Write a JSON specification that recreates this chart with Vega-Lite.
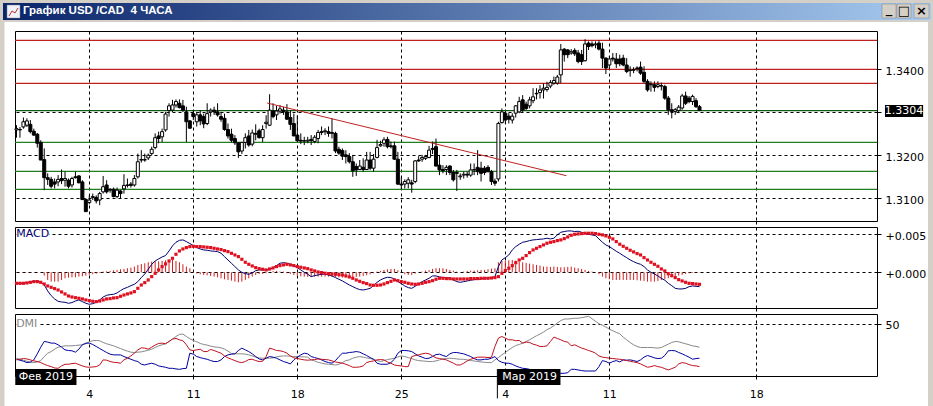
{"$schema":"https://vega.github.io/schema/vega-lite/v6.json","background":"white","padding":0,"spacing":6,"bounds":"flush",
"config":{"font":"DejaVu Sans","scale":{"continuousPadding":0},"view":{"stroke":"black","strokeWidth":1,"fill":"white"},"axis":{"domain":false,"title":null,"grid":true,"gridColor":"black","gridDash":[3,3],"gridWidth":1,"gridOpacity":1,"tickColor":"black","tickSize":4,"labelColor":"black","labelFont":"DejaVu Sans","labelFontSize":11,"labelPadding":4,"labelOverlap":false,"labelFlush":false,"zindex":0}},
"datasets":{"bars":[
{"i":0,"o":1.3259,"h":1.327,"l":1.3241,"c":1.3262,"macd":-0.00145,"sig":-0.00145,"hist":-0.00004,"adx":17.1,"pdi":16.1,"mdi":15.5},
{"i":1,"o":1.326,"h":1.3266,"l":1.3241,"c":1.3259,"macd":-0.00145,"sig":-0.00145,"hist":-0.00004,"adx":16.1,"pdi":15.2,"mdi":16.1},
{"i":2,"o":1.3266,"h":1.3288,"l":1.3262,"c":1.3278,"macd":-0.0014,"sig":-0.00145,"hist":-0.00004,"adx":15.2,"pdi":14.2,"mdi":16.8},
{"i":3,"o":1.327,"h":1.3286,"l":1.3266,"c":1.328,"macd":-0.00136,"sig":-0.0014,"hist":-0.00004,"adx":14.2,"pdi":12.9,"mdi":16.4},
{"i":4,"o":1.3272,"h":1.3282,"l":1.3251,"c":1.3255,"macd":-0.00127,"sig":-0.00132,"hist":-0.00004,"adx":12.9,"pdi":13.5,"mdi":15.5},
{"i":5,"o":1.3256,"h":1.3262,"l":1.3245,"c":1.3247,"macd":-0.00119,"sig":-0.00123,"hist":-0.00004,"adx":12.9,"pdi":15.5,"mdi":14.5},
{"i":6,"o":1.3249,"h":1.3252,"l":1.3218,"c":1.3228,"macd":-0.00114,"sig":-0.00123,"hist":-0.00004,"adx":13.5,"pdi":21.3,"mdi":13.9},
{"i":7,"o":1.323,"h":1.3235,"l":1.3189,"c":1.3189,"macd":-0.00132,"sig":-0.00132,"hist":-0.00004,"adx":14.8,"pdi":27.7,"mdi":12.9},
{"i":8,"o":1.319,"h":1.3216,"l":1.3119,"c":1.3148,"macd":-0.00167,"sig":-0.00154,"hist":-0.00044,"adx":18.7,"pdi":33.2,"mdi":11.3},
{"i":9,"o":1.3148,"h":1.3158,"l":1.3131,"c":1.3144,"macd":-0.00246,"sig":-0.0018,"hist":-0.00101,"adx":21.9,"pdi":32.6,"mdi":10},
{"i":10,"o":1.3144,"h":1.315,"l":1.3123,"c":1.3128,"macd":-0.00307,"sig":-0.00198,"hist":-0.00123,"adx":23.5,"pdi":31.6,"mdi":9},
{"i":11,"o":1.3138,"h":1.3146,"l":1.3123,"c":1.3133,"macd":-0.00351,"sig":-0.00215,"hist":-0.00123,"adx":25.8,"pdi":31.6,"mdi":7.7},
{"i":12,"o":1.3138,"h":1.3154,"l":1.3128,"c":1.3144,"macd":-0.00382,"sig":-0.00233,"hist":-0.00123,"adx":27.7,"pdi":30,"mdi":7.4},
{"i":13,"o":1.3146,"h":1.3167,"l":1.3133,"c":1.3141,"macd":-0.00391,"sig":-0.00259,"hist":-0.00101,"adx":28.4,"pdi":27.7,"mdi":9.7},
{"i":14,"o":1.3142,"h":1.3162,"l":1.3127,"c":1.3146,"macd":-0.00395,"sig":-0.00285,"hist":-0.00079,"adx":29,"pdi":25.1,"mdi":11.3},
{"i":15,"o":1.3142,"h":1.3146,"l":1.3123,"c":1.3128,"macd":-0.00408,"sig":-0.00312,"hist":-0.0007,"adx":29,"pdi":24.5,"mdi":11.3},
{"i":16,"o":1.3131,"h":1.315,"l":1.3125,"c":1.3146,"macd":-0.00399,"sig":-0.00325,"hist":-0.00066,"adx":29,"pdi":24.2,"mdi":11.9},
{"i":17,"o":1.315,"h":1.3162,"l":1.3146,"c":1.3148,"macd":-0.00378,"sig":-0.00334,"hist":-0.00066,"adx":29.3,"pdi":22.9,"mdi":12.3},
{"i":18,"o":1.3152,"h":1.3154,"l":1.3135,"c":1.3136,"macd":-0.00364,"sig":-0.00342,"hist":-0.00057,"adx":29.7,"pdi":25.8,"mdi":11},
{"i":19,"o":1.3138,"h":1.3142,"l":1.3096,"c":1.3097,"macd":-0.00386,"sig":-0.00351,"hist":-0.00053,"adx":30,"pdi":30,"mdi":9.7},
{"i":20,"o":1.3097,"h":1.31,"l":1.3069,"c":1.3069,"macd":-0.00408,"sig":-0.00364,"hist":-0.00044,"adx":31,"pdi":31.6,"mdi":8.7},
{"i":21,"o":1.309,"h":1.3107,"l":1.3086,"c":1.3096,"macd":-0.00421,"sig":-0.00373,"hist":-0.00035,"adx":32.9,"pdi":31.6,"mdi":8.4},
{"i":22,"o":1.3102,"h":1.3111,"l":1.3096,"c":1.3104,"macd":-0.00413,"sig":-0.00382,"hist":-0.00026,"adx":33.9,"pdi":30.3,"mdi":8.7},
{"i":23,"o":1.3102,"h":1.3107,"l":1.3088,"c":1.3094,"macd":-0.00395,"sig":-0.00386,"hist":-0.00018,"adx":34.2,"pdi":28.4,"mdi":9},
{"i":24,"o":1.3096,"h":1.3115,"l":1.3084,"c":1.3111,"macd":-0.00364,"sig":-0.00378,"hist":-0.00009,"adx":33.9,"pdi":26.4,"mdi":10.6},
{"i":25,"o":1.3115,"h":1.3152,"l":1.3111,"c":1.3127,"macd":-0.00325,"sig":-0.00364,"hist":0.00009,"adx":32.2,"pdi":24.5,"mdi":15.5},
{"i":26,"o":1.3131,"h":1.3142,"l":1.3111,"c":1.3115,"macd":-0.00303,"sig":-0.00351,"hist":0.00013,"adx":31,"pdi":22.6,"mdi":15.2},
{"i":27,"o":1.3121,"h":1.3123,"l":1.3113,"c":1.3119,"macd":-0.00294,"sig":-0.00347,"hist":0.00018,"adx":30,"pdi":21,"mdi":13.9},
{"i":28,"o":1.3121,"h":1.3125,"l":1.3102,"c":1.3104,"macd":-0.0029,"sig":-0.00338,"hist":0.00026,"adx":29,"pdi":20.3,"mdi":13.2},
{"i":29,"o":1.3104,"h":1.3125,"l":1.31,"c":1.3119,"macd":-0.00272,"sig":-0.00334,"hist":0.00031,"adx":27.7,"pdi":20.3,"mdi":12.9},
{"i":30,"o":1.3117,"h":1.3119,"l":1.31,"c":1.3111,"macd":-0.00241,"sig":-0.00316,"hist":0.0004,"adx":26.4,"pdi":20.3,"mdi":12.3},
{"i":31,"o":1.3122,"h":1.3156,"l":1.3111,"c":1.313,"macd":-0.00215,"sig":-0.00299,"hist":0.00044,"adx":25.1,"pdi":18.7,"mdi":15.5},
{"i":32,"o":1.3131,"h":1.3146,"l":1.3125,"c":1.313,"macd":-0.00198,"sig":-0.00285,"hist":0.00053,"adx":23.9,"pdi":17.4,"mdi":17.1},
{"i":33,"o":1.3133,"h":1.3138,"l":1.3125,"c":1.313,"macd":-0.00176,"sig":-0.00272,"hist":0.00061,"adx":22.9,"pdi":16.1,"mdi":19.3},
{"i":34,"o":1.3131,"h":1.3154,"l":1.3127,"c":1.3146,"macd":-0.00158,"sig":-0.00255,"hist":0.00075,"adx":22.6,"pdi":14.8,"mdi":21.9},
{"i":35,"o":1.315,"h":1.3204,"l":1.3146,"c":1.3185,"macd":-0.00123,"sig":-0.00211,"hist":0.00097,"adx":22.9,"pdi":13.9,"mdi":25.1},
{"i":36,"o":1.319,"h":1.3212,"l":1.3183,"c":1.3189,"macd":-0.0007,"sig":-0.00167,"hist":0.0011,"adx":23.2,"pdi":11.3,"mdi":27.1},
{"i":37,"o":1.3189,"h":1.3204,"l":1.3185,"c":1.319,"macd":-0.00022,"sig":-0.00136,"hist":0.00119,"adx":23.9,"pdi":10.6,"mdi":26.8},
{"i":38,"o":1.3194,"h":1.3204,"l":1.3189,"c":1.32,"macd":0.0004,"sig":-0.00101,"hist":0.00132,"adx":24.8,"pdi":11.6,"mdi":25.8},
{"i":39,"o":1.3204,"h":1.322,"l":1.32,"c":1.3214,"macd":0.00105,"sig":-0.00057,"hist":0.0014,"adx":25.8,"pdi":12.3,"mdi":27.7},
{"i":40,"o":1.3218,"h":1.3251,"l":1.3214,"c":1.3241,"macd":0.00149,"sig":-0.00013,"hist":0.00145,"adx":27.4,"pdi":11.3,"mdi":29.7},
{"i":41,"o":1.3245,"h":1.3255,"l":1.3228,"c":1.3239,"macd":0.00176,"sig":0.00031,"hist":0.00145,"adx":29,"pdi":9.7,"mdi":31.3},
{"i":42,"o":1.3243,"h":1.3262,"l":1.3231,"c":1.3255,"macd":0.00202,"sig":0.00075,"hist":0.00149,"adx":30,"pdi":9,"mdi":31.6},
{"i":43,"o":1.3259,"h":1.3301,"l":1.3255,"c":1.3296,"macd":0.0022,"sig":0.0011,"hist":0.00158,"adx":31,"pdi":8.4,"mdi":31},
{"i":44,"o":1.3304,"h":1.3321,"l":1.329,"c":1.3315,"macd":0.00281,"sig":0.00149,"hist":0.00162,"adx":33.2,"pdi":7.4,"mdi":33.2},
{"i":45,"o":1.3305,"h":1.3329,"l":1.3301,"c":1.3317,"macd":0.00347,"sig":0.00184,"hist":0.00162,"adx":35.5,"pdi":7.4,"mdi":35.5},
{"i":46,"o":1.3317,"h":1.333,"l":1.3311,"c":1.3325,"macd":0.00395,"sig":0.00237,"hist":0.00149,"adx":38,"pdi":6.8,"mdi":36.1},
{"i":47,"o":1.3321,"h":1.333,"l":1.3309,"c":1.3311,"macd":0.00421,"sig":0.00281,"hist":0.00132,"adx":40,"pdi":6.4,"mdi":34.8},
{"i":48,"o":1.3315,"h":1.3329,"l":1.3301,"c":1.3305,"macd":0.00426,"sig":0.00307,"hist":0.00105,"adx":40.3,"pdi":7.1,"mdi":33.9},
{"i":49,"o":1.3301,"h":1.3313,"l":1.3231,"c":1.3278,"macd":0.00404,"sig":0.00325,"hist":0.00075,"adx":38,"pdi":7.4,"mdi":30},
{"i":50,"o":1.328,"h":1.3282,"l":1.3262,"c":1.3263,"macd":0.00378,"sig":0.00338,"hist":0.00053,"adx":35.8,"pdi":21.9,"mdi":25.1},
{"i":51,"o":1.3297,"h":1.3305,"l":1.3282,"c":1.329,"macd":0.00351,"sig":0.00342,"hist":0.00009,"adx":34.2,"pdi":21,"mdi":24.5},
{"i":52,"o":1.3278,"h":1.3301,"l":1.3267,"c":1.3294,"macd":0.00325,"sig":0.00338,"hist":-0.00018,"adx":32.9,"pdi":18.7,"mdi":25.1},
{"i":53,"o":1.3294,"h":1.3305,"l":1.327,"c":1.328,"macd":0.00307,"sig":0.00338,"hist":-0.00026,"adx":31.3,"pdi":17.7,"mdi":25.8},
{"i":54,"o":1.329,"h":1.3297,"l":1.3263,"c":1.3273,"macd":0.00294,"sig":0.00334,"hist":-0.00035,"adx":30.3,"pdi":16.8,"mdi":23.5},
{"i":55,"o":1.3274,"h":1.3321,"l":1.327,"c":1.3297,"macd":0.0029,"sig":0.00329,"hist":-0.0004,"adx":29.7,"pdi":16.1,"mdi":23.5},
{"i":56,"o":1.3301,"h":1.3309,"l":1.329,"c":1.3305,"macd":0.00281,"sig":0.00325,"hist":-0.00048,"adx":28.7,"pdi":14.8,"mdi":25.5},
{"i":57,"o":1.3305,"h":1.3313,"l":1.3294,"c":1.3301,"macd":0.00277,"sig":0.00316,"hist":-0.00057,"adx":28,"pdi":13.9,"mdi":24.5},
{"i":58,"o":1.3301,"h":1.3321,"l":1.329,"c":1.3294,"macd":0.00272,"sig":0.00307,"hist":-0.00066,"adx":27.7,"pdi":13.9,"mdi":23.2},
{"i":59,"o":1.329,"h":1.3301,"l":1.3278,"c":1.3284,"macd":0.0025,"sig":0.00299,"hist":-0.00079,"adx":27.1,"pdi":15.5,"mdi":21.9},
{"i":60,"o":1.3286,"h":1.3297,"l":1.3257,"c":1.326,"macd":0.00206,"sig":0.00285,"hist":-0.00092,"adx":25.8,"pdi":18.7,"mdi":19.3},
{"i":61,"o":1.326,"h":1.3274,"l":1.3239,"c":1.3245,"macd":0.00162,"sig":0.00272,"hist":-0.00101,"adx":23.9,"pdi":20.3,"mdi":17.4},
{"i":62,"o":1.3249,"h":1.3262,"l":1.323,"c":1.3235,"macd":0.00119,"sig":0.0025,"hist":-0.0011,"adx":21.6,"pdi":21,"mdi":16.1},
{"i":63,"o":1.3239,"h":1.3247,"l":1.3224,"c":1.3229,"macd":0.00075,"sig":0.00228,"hist":-0.00123,"adx":21.3,"pdi":21.3,"mdi":14.8},
{"i":64,"o":1.3229,"h":1.3231,"l":1.3194,"c":1.3208,"macd":0.00031,"sig":0.00206,"hist":-0.00132,"adx":21.3,"pdi":24.5,"mdi":13.5},
{"i":65,"o":1.321,"h":1.323,"l":1.3203,"c":1.323,"macd":0,"sig":0.00171,"hist":-0.00123,"adx":21.3,"pdi":26.8,"mdi":12.9},
{"i":66,"o":1.323,"h":1.3251,"l":1.3216,"c":1.3241,"macd":-0.00018,"sig":0.00132,"hist":-0.00101,"adx":21,"pdi":25.1,"mdi":13.9},
{"i":67,"o":1.3245,"h":1.3259,"l":1.322,"c":1.3224,"macd":-0.00026,"sig":0.00105,"hist":-0.00079,"adx":20.3,"pdi":23.5,"mdi":15.8},
{"i":68,"o":1.3226,"h":1.326,"l":1.3221,"c":1.3252,"macd":-0.00009,"sig":0.00083,"hist":-0.00057,"adx":19.3,"pdi":21.3,"mdi":16.1},
{"i":69,"o":1.3251,"h":1.3272,"l":1.3235,"c":1.3249,"macd":0.00022,"sig":0.00061,"hist":-0.00035,"adx":18.1,"pdi":18.7,"mdi":14.8},
{"i":70,"o":1.3257,"h":1.3262,"l":1.3239,"c":1.3241,"macd":0.00031,"sig":0.00048,"hist":-0.00022,"adx":17.4,"pdi":16.4,"mdi":13.9},
{"i":71,"o":1.3241,"h":1.327,"l":1.3231,"c":1.326,"macd":0.00031,"sig":0.0004,"hist":-0.00022,"adx":17.1,"pdi":15.5,"mdi":14.2},
{"i":72,"o":1.3274,"h":1.3293,"l":1.3262,"c":1.3277,"macd":0.00031,"sig":0.00031,"hist":-0.00013,"adx":17.1,"pdi":17.1,"mdi":18.7},
{"i":73,"o":1.327,"h":1.3342,"l":1.3268,"c":1.3305,"macd":0.00035,"sig":0.00044,"hist":0,"adx":17.1,"pdi":18.7,"mdi":26.8},
{"i":74,"o":1.3303,"h":1.3321,"l":1.3286,"c":1.329,"macd":0.00061,"sig":0.00057,"hist":0.00018,"adx":17.4,"pdi":18.1,"mdi":25.8},
{"i":75,"o":1.3294,"h":1.3315,"l":1.3282,"c":1.3303,"macd":0.00088,"sig":0.00075,"hist":0.00018,"adx":18.4,"pdi":17.1,"mdi":24.5},
{"i":76,"o":1.3303,"h":1.3317,"l":1.3297,"c":1.3308,"macd":0.00119,"sig":0.00088,"hist":0.00009,"adx":19,"pdi":15.5,"mdi":24.2},
{"i":77,"o":1.3305,"h":1.3313,"l":1.3294,"c":1.3301,"macd":0.00127,"sig":0.00097,"hist":0.00009,"adx":19.3,"pdi":13.9,"mdi":23.5},
{"i":78,"o":1.3301,"h":1.3319,"l":1.3282,"c":1.3284,"macd":0.00119,"sig":0.00105,"hist":-0.00013,"adx":19.3,"pdi":12.9,"mdi":21.9},
{"i":79,"o":1.3288,"h":1.3305,"l":1.3259,"c":1.3272,"macd":0.00105,"sig":0.00097,"hist":-0.00022,"adx":19,"pdi":11.6,"mdi":19.3},
{"i":80,"o":1.3274,"h":1.3297,"l":1.3245,"c":1.3245,"macd":0.00088,"sig":0.00088,"hist":-0.00035,"adx":18.7,"pdi":15.5,"mdi":17.4},
{"i":81,"o":1.3247,"h":1.3293,"l":1.3231,"c":1.3234,"macd":0.00061,"sig":0.00075,"hist":-0.00044,"adx":18.7,"pdi":18.1,"mdi":16.8},
{"i":82,"o":1.3235,"h":1.3251,"l":1.3226,"c":1.3233,"macd":0.00031,"sig":0.00066,"hist":-0.00053,"adx":18.4,"pdi":20.3,"mdi":16.1},
{"i":83,"o":1.3233,"h":1.3243,"l":1.3224,"c":1.3234,"macd":0,"sig":0.00057,"hist":-0.00057,"adx":18.4,"pdi":21.9,"mdi":15.5},
{"i":84,"o":1.3233,"h":1.3243,"l":1.3228,"c":1.3235,"macd":-0.00026,"sig":0.00048,"hist":-0.00061,"adx":18.1,"pdi":21.3,"mdi":15.2},
{"i":85,"o":1.3237,"h":1.3247,"l":1.3224,"c":1.3234,"macd":-0.00057,"sig":0.00031,"hist":-0.00061,"adx":15.5,"pdi":18.7,"mdi":15.5},
{"i":86,"o":1.3232,"h":1.3247,"l":1.3228,"c":1.3242,"macd":-0.00044,"sig":0.00018,"hist":-0.00057,"adx":14.5,"pdi":17.7,"mdi":15.8},
{"i":87,"o":1.3239,"h":1.3259,"l":1.3228,"c":1.3253,"macd":-0.00035,"sig":0.00004,"hist":-0.00057,"adx":13.2,"pdi":16.8,"mdi":16.4},
{"i":88,"o":1.3255,"h":1.3267,"l":1.3247,"c":1.3253,"macd":-0.00026,"sig":-0.00004,"hist":-0.00057,"adx":12.3,"pdi":15.5,"mdi":16.1},
{"i":89,"o":1.3255,"h":1.3263,"l":1.3247,"c":1.3257,"macd":-0.00026,"sig":-0.00013,"hist":-0.00057,"adx":11.6,"pdi":13.9,"mdi":15.8},
{"i":90,"o":1.3255,"h":1.3267,"l":1.3243,"c":1.3251,"macd":-0.00035,"sig":-0.00018,"hist":-0.00057,"adx":11.3,"pdi":12.9,"mdi":15.5},
{"i":91,"o":1.3253,"h":1.3286,"l":1.3239,"c":1.3251,"macd":-0.00048,"sig":-0.00022,"hist":-0.00057,"adx":11,"pdi":12.3,"mdi":14.5},
{"i":92,"o":1.3251,"h":1.3255,"l":1.3205,"c":1.321,"macd":-0.0007,"sig":-0.00026,"hist":-0.00061,"adx":10.6,"pdi":14.8,"mdi":13.5},
{"i":93,"o":1.3214,"h":1.322,"l":1.3201,"c":1.3205,"macd":-0.00092,"sig":-0.00031,"hist":-0.00066,"adx":11.3,"pdi":18.7,"mdi":12.9},
{"i":94,"o":1.3211,"h":1.3216,"l":1.3189,"c":1.3198,"macd":-0.00114,"sig":-0.00035,"hist":-0.0007,"adx":12.9,"pdi":21.9,"mdi":12.3},
{"i":95,"o":1.3201,"h":1.3212,"l":1.3181,"c":1.3197,"macd":-0.0014,"sig":-0.00048,"hist":-0.0007,"adx":14.8,"pdi":21.9,"mdi":11.3},
{"i":96,"o":1.3197,"h":1.3205,"l":1.3181,"c":1.3185,"macd":-0.00167,"sig":-0.00061,"hist":-0.0007,"adx":15.5,"pdi":22.6,"mdi":10},
{"i":97,"o":1.3185,"h":1.3201,"l":1.315,"c":1.3164,"macd":-0.00189,"sig":-0.00079,"hist":-0.00066,"adx":17.1,"pdi":22.9,"mdi":8.4},
{"i":98,"o":1.3174,"h":1.3181,"l":1.3152,"c":1.3166,"macd":-0.00211,"sig":-0.00101,"hist":-0.00061,"adx":18.1,"pdi":23.5,"mdi":8.4},
{"i":99,"o":1.3167,"h":1.3189,"l":1.3166,"c":1.3175,"macd":-0.00228,"sig":-0.00119,"hist":-0.00057,"adx":18.7,"pdi":22.9,"mdi":8.7},
{"i":100,"o":1.3172,"h":1.3193,"l":1.3162,"c":1.3167,"macd":-0.00233,"sig":-0.00136,"hist":-0.00048,"adx":18.1,"pdi":21.3,"mdi":9.7},
{"i":101,"o":1.3167,"h":1.3208,"l":1.3166,"c":1.3189,"macd":-0.00224,"sig":-0.00149,"hist":-0.0004,"adx":17.4,"pdi":19.7,"mdi":12.9},
{"i":102,"o":1.3189,"h":1.3208,"l":1.3166,"c":1.317,"macd":-0.00211,"sig":-0.00167,"hist":-0.00026,"adx":16.8,"pdi":17.7,"mdi":13.9},
{"i":103,"o":1.317,"h":1.3203,"l":1.3162,"c":1.3191,"macd":-0.00176,"sig":-0.00171,"hist":-0.00013,"adx":16.1,"pdi":16.1,"mdi":14.5},
{"i":104,"o":1.3195,"h":1.3236,"l":1.3193,"c":1.3218,"macd":-0.00132,"sig":-0.00171,"hist":0.00009,"adx":14.8,"pdi":12.3,"mdi":15.5},
{"i":105,"o":1.3222,"h":1.3234,"l":1.322,"c":1.3225,"macd":-0.00101,"sig":-0.00167,"hist":0.00018,"adx":13.9,"pdi":11.3,"mdi":15.8},
{"i":106,"o":1.3228,"h":1.3242,"l":1.322,"c":1.3236,"macd":-0.00079,"sig":-0.00154,"hist":0.00031,"adx":14.8,"pdi":11.3,"mdi":15.5},
{"i":107,"o":1.3237,"h":1.3243,"l":1.3216,"c":1.322,"macd":-0.00066,"sig":-0.00136,"hist":0.0004,"adx":15.8,"pdi":11.3,"mdi":13.5},
{"i":108,"o":1.3222,"h":1.3232,"l":1.3216,"c":1.322,"macd":-0.0007,"sig":-0.00119,"hist":0.00044,"adx":16.4,"pdi":12.9,"mdi":12.3},
{"i":109,"o":1.3222,"h":1.3232,"l":1.3189,"c":1.3191,"macd":-0.00088,"sig":-0.00101,"hist":0.00044,"adx":17.1,"pdi":16.1,"mdi":10.6},
{"i":110,"o":1.3191,"h":1.3208,"l":1.3131,"c":1.3133,"macd":-0.00123,"sig":-0.0011,"hist":0.00026,"adx":18.4,"pdi":21.9,"mdi":10},
{"i":111,"o":1.3133,"h":1.315,"l":1.3121,"c":1.3131,"macd":-0.00149,"sig":-0.00123,"hist":-0.00004,"adx":19.3,"pdi":24.5,"mdi":9.7},
{"i":112,"o":1.3133,"h":1.3144,"l":1.3123,"c":1.3139,"macd":-0.0018,"sig":-0.00132,"hist":-0.00026,"adx":18.7,"pdi":24.5,"mdi":9},
{"i":113,"o":1.3135,"h":1.3149,"l":1.3123,"c":1.3143,"macd":-0.00202,"sig":-0.00145,"hist":-0.00035,"adx":17.7,"pdi":24.2,"mdi":9},
{"i":114,"o":1.3136,"h":1.3143,"l":1.3113,"c":1.3133,"macd":-0.00211,"sig":-0.00154,"hist":-0.00035,"adx":16.8,"pdi":23.5,"mdi":18.7},
{"i":115,"o":1.3139,"h":1.3189,"l":1.3135,"c":1.3187,"macd":-0.00184,"sig":-0.00158,"hist":-0.00018,"adx":15.5,"pdi":21.3,"mdi":19.7},
{"i":116,"o":1.3189,"h":1.3198,"l":1.3185,"c":1.3187,"macd":-0.00154,"sig":-0.00154,"hist":0,"adx":14.8,"pdi":19.3,"mdi":20.3},
{"i":117,"o":1.3191,"h":1.3201,"l":1.3185,"c":1.3195,"macd":-0.00123,"sig":-0.00145,"hist":0.00009,"adx":14.5,"pdi":18.1,"mdi":21.3},
{"i":118,"o":1.3193,"h":1.3201,"l":1.3189,"c":1.3197,"macd":-0.00101,"sig":-0.00132,"hist":0.00022,"adx":14.2,"pdi":16.8,"mdi":21.9},
{"i":119,"o":1.3195,"h":1.3222,"l":1.3193,"c":1.3212,"macd":-0.00079,"sig":-0.00123,"hist":0.00031,"adx":13.9,"pdi":17.1,"mdi":21.3},
{"i":120,"o":1.3216,"h":1.3232,"l":1.3203,"c":1.3214,"macd":-0.00048,"sig":-0.0011,"hist":0.00044,"adx":13.9,"pdi":18.7,"mdi":19.3},
{"i":121,"o":1.322,"h":1.3239,"l":1.3174,"c":1.3175,"macd":-0.00048,"sig":-0.00092,"hist":0.00053,"adx":14.5,"pdi":20.6,"mdi":17.4},
{"i":122,"o":1.3177,"h":1.3201,"l":1.3154,"c":1.3166,"macd":-0.00061,"sig":-0.00079,"hist":0.00053,"adx":15.5,"pdi":21,"mdi":16.8},
{"i":123,"o":1.3167,"h":1.3177,"l":1.3158,"c":1.3164,"macd":-0.0007,"sig":-0.00079,"hist":0.00053,"adx":16.4,"pdi":19.7,"mdi":16.1},
{"i":124,"o":1.3167,"h":1.3177,"l":1.3154,"c":1.3172,"macd":-0.0007,"sig":-0.00083,"hist":0.00044,"adx":16.8,"pdi":18.7,"mdi":15.5},
{"i":125,"o":1.3175,"h":1.3177,"l":1.3154,"c":1.316,"macd":-0.00079,"sig":-0.00083,"hist":0.00031,"adx":17.1,"pdi":21.3,"mdi":13.9},
{"i":126,"o":1.316,"h":1.3166,"l":1.3139,"c":1.3143,"macd":-0.00101,"sig":-0.00088,"hist":0.00022,"adx":16.8,"pdi":22.6,"mdi":12.3},
{"i":127,"o":1.316,"h":1.3166,"l":1.3117,"c":1.3158,"macd":-0.00123,"sig":-0.00088,"hist":0.00009,"adx":16.4,"pdi":22.6,"mdi":10.6},
{"i":128,"o":1.315,"h":1.3158,"l":1.3143,"c":1.3152,"macd":-0.00132,"sig":-0.00088,"hist":0.00004,"adx":16.1,"pdi":21.9,"mdi":10.6},
{"i":129,"o":1.3154,"h":1.3162,"l":1.3146,"c":1.3156,"macd":-0.00123,"sig":-0.00088,"hist":0.00009,"adx":16.1,"pdi":21.3,"mdi":12.3},
{"i":130,"o":1.3156,"h":1.3162,"l":1.3148,"c":1.3154,"macd":-0.00114,"sig":-0.00088,"hist":0.00018,"adx":15.5,"pdi":20,"mdi":14.5},
{"i":131,"o":1.3154,"h":1.3181,"l":1.315,"c":1.3166,"macd":-0.00105,"sig":-0.00083,"hist":0.00022,"adx":14.8,"pdi":18.7,"mdi":16.1},
{"i":132,"o":1.3166,"h":1.3181,"l":1.3154,"c":1.3167,"macd":-0.00097,"sig":-0.00083,"hist":0.00022,"adx":14.5,"pdi":16.8,"mdi":17.1},
{"i":133,"o":1.3172,"h":1.3212,"l":1.3154,"c":1.3162,"macd":-0.00092,"sig":-0.00083,"hist":0.00026,"adx":13.9,"pdi":15.5,"mdi":18.1},
{"i":134,"o":1.317,"h":1.3185,"l":1.3139,"c":1.3158,"macd":-0.00088,"sig":-0.00079,"hist":0.00031,"adx":13.5,"pdi":15.5,"mdi":18.1},
{"i":135,"o":1.317,"h":1.3175,"l":1.3154,"c":1.316,"macd":-0.00079,"sig":-0.00079,"hist":0.00031,"adx":13.2,"pdi":16.1,"mdi":18.1},
{"i":136,"o":1.3172,"h":1.3177,"l":1.316,"c":1.3162,"macd":-0.00075,"sig":-0.00079,"hist":0.0004,"adx":12.9,"pdi":16.1,"mdi":17.7},
{"i":137,"o":1.3162,"h":1.3166,"l":1.3131,"c":1.3139,"macd":-0.0007,"sig":-0.00075,"hist":0.00048,"adx":12.9,"pdi":17.1,"mdi":18.1},
{"i":138,"o":1.314,"h":1.3146,"l":1.3129,"c":1.3135,"macd":-0.00057,"sig":-0.0007,"hist":0.00053,"adx":15.5,"pdi":18.7,"mdi":28.4},
{"i":139,"o":1.3145,"h":1.3278,"l":1.3139,"c":1.3274,"macd":0.00075,"sig":-0.00057,"hist":0.00132,"adx":17.7,"pdi":14.8,"mdi":36.4},
{"i":140,"o":1.3276,"h":1.3309,"l":1.3274,"c":1.3301,"macd":0.00162,"sig":-0.00013,"hist":0.00149,"adx":20.3,"pdi":13.2,"mdi":38},
{"i":141,"o":1.3298,"h":1.3301,"l":1.3274,"c":1.3282,"macd":0.00193,"sig":0.00022,"hist":0.00149,"adx":22.6,"pdi":12.3,"mdi":36.4},
{"i":142,"o":1.3291,"h":1.3298,"l":1.3274,"c":1.3284,"macd":0.00228,"sig":0.00053,"hist":0.00158,"adx":25.1,"pdi":12.3,"mdi":34.8},
{"i":143,"o":1.3282,"h":1.3298,"l":1.3274,"c":1.3291,"macd":0.00294,"sig":0.00088,"hist":0.00162,"adx":27.4,"pdi":11.3,"mdi":34.8},
{"i":144,"o":1.3298,"h":1.3317,"l":1.3288,"c":1.3315,"macd":0.00338,"sig":0.00127,"hist":0.00154,"adx":29.3,"pdi":9.7,"mdi":33.9},
{"i":145,"o":1.3301,"h":1.3336,"l":1.3298,"c":1.3325,"macd":0.00369,"sig":0.00162,"hist":0.0014,"adx":30.3,"pdi":8.4,"mdi":34.2},
{"i":146,"o":1.3329,"h":1.334,"l":1.3301,"c":1.3305,"macd":0.00395,"sig":0.00184,"hist":0.00132,"adx":31.6,"pdi":7.4,"mdi":31.6},
{"i":147,"o":1.3319,"h":1.3325,"l":1.3305,"c":1.3309,"macd":0.00404,"sig":0.0022,"hist":0.00123,"adx":33.2,"pdi":7.1,"mdi":32.6},
{"i":148,"o":1.3315,"h":1.3336,"l":1.3309,"c":1.3329,"macd":0.00417,"sig":0.00259,"hist":0.00114,"adx":34.8,"pdi":6.4,"mdi":32.2},
{"i":149,"o":1.3327,"h":1.3356,"l":1.3321,"c":1.3336,"macd":0.00426,"sig":0.00294,"hist":0.00105,"adx":36.8,"pdi":5.2,"mdi":30.6},
{"i":150,"o":1.3344,"h":1.3356,"l":1.333,"c":1.3343,"macd":0.0043,"sig":0.00316,"hist":0.00097,"adx":38.7,"pdi":4.5,"mdi":29.7},
{"i":151,"o":1.3346,"h":1.3363,"l":1.3332,"c":1.3352,"macd":0.00435,"sig":0.00338,"hist":0.00088,"adx":40.3,"pdi":3.9,"mdi":28.4},
{"i":152,"o":1.3352,"h":1.3367,"l":1.3332,"c":1.3356,"macd":0.00439,"sig":0.0036,"hist":0.00075,"adx":42.2,"pdi":3.2,"mdi":28.4},
{"i":153,"o":1.3353,"h":1.3371,"l":1.3348,"c":1.3358,"macd":0.00448,"sig":0.00382,"hist":0.00075,"adx":44.5,"pdi":2.6,"mdi":29},
{"i":154,"o":1.3361,"h":1.3375,"l":1.3356,"c":1.3369,"macd":0.00439,"sig":0.00395,"hist":0.0007,"adx":46.1,"pdi":2.6,"mdi":33.2},
{"i":155,"o":1.3368,"h":1.3383,"l":1.3364,"c":1.3374,"macd":0.00448,"sig":0.00404,"hist":0.00075,"adx":48.4,"pdi":2.6,"mdi":37.4},
{"i":156,"o":1.3368,"h":1.3387,"l":1.3364,"c":1.3382,"macd":0.00492,"sig":0.00417,"hist":0.0007,"adx":50.9,"pdi":2.6,"mdi":36.1},
{"i":157,"o":1.3387,"h":1.3459,"l":1.3368,"c":1.3445,"macd":0.00527,"sig":0.00426,"hist":0.00066,"adx":53.2,"pdi":2.6,"mdi":34.8},
{"i":158,"o":1.3447,"h":1.3449,"l":1.3418,"c":1.3434,"macd":0.00536,"sig":0.00443,"hist":0.00066,"adx":54.8,"pdi":2.6,"mdi":33.2},
{"i":159,"o":1.3445,"h":1.3447,"l":1.3426,"c":1.3434,"macd":0.00544,"sig":0.00465,"hist":0.0007,"adx":54.8,"pdi":3.2,"mdi":32.6},
{"i":160,"o":1.3438,"h":1.3447,"l":1.3434,"c":1.3441,"macd":0.00544,"sig":0.00487,"hist":0.00075,"adx":55.1,"pdi":6.4,"mdi":29},
{"i":161,"o":1.3444,"h":1.3449,"l":1.3431,"c":1.3436,"macd":0.00536,"sig":0.005,"hist":0.00061,"adx":55.5,"pdi":6.4,"mdi":30},
{"i":162,"o":1.3438,"h":1.3445,"l":1.3414,"c":1.3418,"macd":0.0054,"sig":0.00505,"hist":0.00053,"adx":55.5,"pdi":5.8,"mdi":28.4},
{"i":163,"o":1.3434,"h":1.3445,"l":1.341,"c":1.3418,"macd":0.00527,"sig":0.00509,"hist":0.00044,"adx":56.1,"pdi":5.2,"mdi":26.8},
{"i":164,"o":1.342,"h":1.347,"l":1.3418,"c":1.3459,"macd":0.00514,"sig":0.00514,"hist":0.00031,"adx":56.7,"pdi":4.8,"mdi":25.8},
{"i":165,"o":1.3461,"h":1.3465,"l":1.3445,"c":1.3453,"macd":0.005,"sig":0.00514,"hist":0.00018,"adx":57.4,"pdi":4.8,"mdi":24.5},
{"i":166,"o":1.3459,"h":1.3465,"l":1.3451,"c":1.3455,"macd":0.00492,"sig":0.00514,"hist":0.00009,"adx":55.1,"pdi":4.8,"mdi":23.5},
{"i":167,"o":1.3457,"h":1.3465,"l":1.3449,"c":1.3459,"macd":0.00483,"sig":0.00509,"hist":-0.00004,"adx":52.6,"pdi":4.8,"mdi":21.9},
{"i":168,"o":1.3461,"h":1.3467,"l":1.3444,"c":1.3447,"macd":0.00439,"sig":0.005,"hist":-0.00026,"adx":50.3,"pdi":9,"mdi":19.3},
{"i":169,"o":1.3447,"h":1.3462,"l":1.3403,"c":1.3426,"macd":0.00395,"sig":0.00492,"hist":-0.00057,"adx":48.7,"pdi":14.8,"mdi":18.1},
{"i":170,"o":1.3426,"h":1.3428,"l":1.3389,"c":1.3403,"macd":0.0036,"sig":0.00479,"hist":-0.00079,"adx":47.1,"pdi":13.9,"mdi":17.7},
{"i":171,"o":1.341,"h":1.3431,"l":1.34,"c":1.3424,"macd":0.00338,"sig":0.00461,"hist":-0.00092,"adx":45.1,"pdi":12.3,"mdi":17.1},
{"i":172,"o":1.3426,"h":1.3438,"l":1.3418,"c":1.3424,"macd":0.00307,"sig":0.00439,"hist":-0.00101,"adx":43.5,"pdi":13.9,"mdi":16.8},
{"i":173,"o":1.3424,"h":1.3438,"l":1.3403,"c":1.3413,"macd":0.00277,"sig":0.00404,"hist":-0.00101,"adx":41.9,"pdi":14.8,"mdi":16.4},
{"i":174,"o":1.3424,"h":1.3434,"l":1.3407,"c":1.3413,"macd":0.0025,"sig":0.00369,"hist":-0.00101,"adx":40.6,"pdi":13.5,"mdi":16.1},
{"i":175,"o":1.3426,"h":1.3434,"l":1.3407,"c":1.341,"macd":0.0022,"sig":0.00342,"hist":-0.00101,"adx":37.4,"pdi":15.5,"mdi":15.5},
{"i":176,"o":1.341,"h":1.3426,"l":1.3391,"c":1.3395,"macd":0.00193,"sig":0.00316,"hist":-0.00101,"adx":34.8,"pdi":15.2,"mdi":14.8},
{"i":177,"o":1.3397,"h":1.3407,"l":1.3383,"c":1.3398,"macd":0.00162,"sig":0.0029,"hist":-0.00101,"adx":32.2,"pdi":15.5,"mdi":14.2},
{"i":178,"o":1.3399,"h":1.3405,"l":1.3391,"c":1.3398,"macd":0.0014,"sig":0.00268,"hist":-0.00101,"adx":30,"pdi":14.8,"mdi":13.5},
{"i":179,"o":1.3403,"h":1.3407,"l":1.3395,"c":1.3402,"macd":0.00119,"sig":0.00246,"hist":-0.00105,"adx":28.4,"pdi":13.9,"mdi":12.9},
{"i":180,"o":1.3405,"h":1.3418,"l":1.3387,"c":1.3391,"macd":0.00105,"sig":0.00228,"hist":-0.0011,"adx":27.4,"pdi":15.5,"mdi":11.6},
{"i":181,"o":1.3393,"h":1.3407,"l":1.3368,"c":1.3372,"macd":0.00075,"sig":0.00193,"hist":-0.00114,"adx":27.4,"pdi":18.1,"mdi":10},
{"i":182,"o":1.3372,"h":1.3377,"l":1.3348,"c":1.3352,"macd":0.00031,"sig":0.00162,"hist":-0.00123,"adx":27.4,"pdi":19.7,"mdi":8.4},
{"i":183,"o":1.3364,"h":1.3372,"l":1.3348,"c":1.3365,"macd":0,"sig":0.00132,"hist":-0.00123,"adx":27.4,"pdi":18.7,"mdi":9},
{"i":184,"o":1.3364,"h":1.3372,"l":1.3348,"c":1.3358,"macd":-0.00022,"sig":0.00105,"hist":-0.00123,"adx":27.1,"pdi":17.4,"mdi":10},
{"i":185,"o":1.336,"h":1.3372,"l":1.3356,"c":1.3364,"macd":-0.00048,"sig":0.00079,"hist":-0.00114,"adx":26.8,"pdi":16.8,"mdi":9},
{"i":186,"o":1.3362,"h":1.3369,"l":1.3351,"c":1.3361,"macd":-0.00079,"sig":0.00044,"hist":-0.00101,"adx":27.4,"pdi":17.1,"mdi":8.4},
{"i":187,"o":1.336,"h":1.3364,"l":1.3329,"c":1.3333,"macd":-0.00105,"sig":0.00018,"hist":-0.00092,"adx":29,"pdi":19.7,"mdi":7.1},
{"i":188,"o":1.3333,"h":1.3338,"l":1.3294,"c":1.3306,"macd":-0.00145,"sig":-0.00018,"hist":-0.00079,"adx":30.6,"pdi":24.2,"mdi":5.8},
{"i":189,"o":1.3306,"h":1.3321,"l":1.3286,"c":1.3302,"macd":-0.00176,"sig":-0.00044,"hist":-0.00066,"adx":32.2,"pdi":24.5,"mdi":7.1},
{"i":190,"o":1.3302,"h":1.331,"l":1.3294,"c":1.3306,"macd":-0.00211,"sig":-0.0007,"hist":-0.00057,"adx":33.2,"pdi":24.2,"mdi":8.4},
{"i":191,"o":1.3304,"h":1.3317,"l":1.3298,"c":1.3312,"macd":-0.00219,"sig":-0.00097,"hist":-0.00044,"adx":32.9,"pdi":22.6,"mdi":11.6},
{"i":192,"o":1.331,"h":1.3343,"l":1.3306,"c":1.3338,"macd":-0.00219,"sig":-0.00114,"hist":-0.00035,"adx":31.9,"pdi":21.3,"mdi":12.9},
{"i":193,"o":1.3338,"h":1.3348,"l":1.3317,"c":1.3321,"macd":-0.00211,"sig":-0.00132,"hist":-0.00022,"adx":31,"pdi":19.7,"mdi":12.3},
{"i":194,"o":1.3333,"h":1.3338,"l":1.3321,"c":1.3325,"macd":-0.00189,"sig":-0.00145,"hist":-0.00013,"adx":30,"pdi":18.1,"mdi":11},
{"i":195,"o":1.3325,"h":1.3341,"l":1.3317,"c":1.3337,"macd":-0.0018,"sig":-0.00149,"hist":-0.00009,"adx":29,"pdi":16.1,"mdi":10},
{"i":196,"o":1.3327,"h":1.3333,"l":1.331,"c":1.3313,"macd":-0.00184,"sig":-0.00154,"hist":-0.00004,"adx":28.4,"pdi":16.8,"mdi":9.7},
{"i":197,"o":1.3313,"h":1.3317,"l":1.3303,"c":1.3304,"macd":-0.00189,"sig":-0.00158,"hist":-0.00004,"adx":27.7,"pdi":17.1,"mdi":9}
]},
"vconcat":[
{"width":862,"height":25,"view":{"stroke":null,"fill":null},
"layer":[
{"data":{"values":[{"x0":0,"x1":933,"y0":0,"y1":22},{"x0":0,"x1":4.5,"y0":0,"y1":406},{"x0":928,"x1":933,"y0":0,"y1":406}]},"mark":{"type":"rect","fill":"#d4d0c8","clip":false},
"encoding":{"x":{"field":"x0","type":"quantitative","scale":{"domain":[15,877],"nice":false,"zero":false},"axis":null},"x2":{"field":"x1"},"y":{"field":"y0","type":"quantitative","scale":{"domain":[25,0],"nice":false,"zero":false},"axis":null},"y2":{"field":"y1"}}},
{"data":{"values":[{"x0":3,"x1":931,"y0":3,"y1":20}]},"mark":{"type":"rect","clip":false,"fill":{"gradient":"linear","x1":0,"y1":0,"x2":1,"y2":0,"stops":[{"offset":0,"color":"#0a246a"},{"offset":1,"color":"#a6caf0"}]}},
"encoding":{"x":{"field":"x0","type":"quantitative","scale":{"domain":[15,877],"nice":false,"zero":false},"axis":null},"x2":{"field":"x1"},"y":{"field":"y0","type":"quantitative","scale":{"domain":[25,0],"nice":false,"zero":false},"axis":null},"y2":{"field":"y1"}}},
{"data":{"values":[{"x0":7,"x1":20,"y0":5,"y1":18,"c":"#eef2f8"},{"x0":882,"x1":896,"y0":4,"y1":18,"c":"#d4d0c8"},{"x0":897,"x1":911,"y0":4,"y1":18,"c":"#d4d0c8"},{"x0":914,"x1":929,"y0":4,"y1":18,"c":"#d4d0c8"}]},"mark":{"type":"rect","clip":false,"stroke":"#808080","strokeWidth":0.5},
"encoding":{"x":{"field":"x0","type":"quantitative","scale":{"domain":[15,877],"nice":false,"zero":false},"axis":null},"x2":{"field":"x1"},"y":{"field":"y0","type":"quantitative","scale":{"domain":[25,0],"nice":false,"zero":false},"axis":null},"y2":{"field":"y1"},"fill":{"field":"c","type":"nominal","scale":null}}},
{"data":{"values":[{"x":9,"y":16},{"x":12,"y":11},{"x":15,"y":13},{"x":18,"y":8}]},"mark":{"type":"line","color":"#c03030","strokeWidth":1,"clip":false},
"encoding":{"x":{"field":"x","type":"quantitative","scale":{"domain":[15,877],"nice":false,"zero":false},"axis":null},"y":{"field":"y","type":"quantitative","scale":{"domain":[25,0],"nice":false,"zero":false},"axis":null}}},
{"data":{"values":[{"x":23,"y":11,"t":"График USD /CAD \u00a04 ЧАСА"}]},"mark":{"type":"text","align":"left","baseline":"middle","font":"Liberation Sans","fontWeight":"bold","fontSize":11.5,"color":"white","clip":false},
"encoding":{"x":{"field":"x","type":"quantitative","scale":{"domain":[15,877],"nice":false,"zero":false},"axis":null},"y":{"field":"y","type":"quantitative","scale":{"domain":[25,0],"nice":false,"zero":false},"axis":null},"text":{"field":"t"}}},
{"data":{"values":[{"x":889,"y":9,"t":"_"},{"x":904,"y":11,"t":"□"},{"x":921.5,"y":11,"t":"×"}]},"mark":{"type":"text","align":"center","baseline":"middle","font":"DejaVu Sans","fontWeight":"bold","fontSize":13,"color":"black","clip":false},
"encoding":{"x":{"field":"x","type":"quantitative","scale":{"domain":[15,877],"nice":false,"zero":false},"axis":null},"y":{"field":"y","type":"quantitative","scale":{"domain":[25,0],"nice":false,"zero":false},"axis":null},"text":{"field":"t"}}}
]},
{"width":862,"height":190,
"layer":[
{"data":{"values":[{"price":1.34674,"kind":"res"},{"price":1.34,"kind":"res"},{"price":1.33674,"kind":"res"},{"price":1.33037,"kind":"cur"},{"price":1.32302,"kind":"sup"},{"price":1.31628,"kind":"sup"},{"price":1.31209,"kind":"sup"}]},"mark":{"type":"rule","strokeWidth":1.3},
"encoding":{"y":{"field":"price","type":"quantitative","scale":{"domain":[1.30472,1.34891],"nice":false,"zero":false},"axis":{"orient":"right","values":[1.31,1.32,1.33,1.34],"format":".4f","labelOffset":2,"labelExpr":"abs(datum.value-1.33)<0.0001?'':datum.label"}},"color":{"field":"kind","type":"nominal","scale":{"domain":["res","cur","sup"],"range":["#c02020","#0f5a0f","#1f7f1f"]},"legend":null}}},
{"data":{"name":"bars"},"mark":{"type":"rule","color":"black","strokeWidth":1},
"encoding":{"x":{"field":"i","type":"quantitative","scale":{"domain":[-0.43,248.2],"nice":false,"zero":false},"axis":{"orient":"bottom","values":[21,51,81,111,141,171,213.4],"labels":false,"ticks":true,"tickSize":6,"tickDash":[3,3]}},"y":{"field":"l","type":"quantitative","scale":{"domain":[1.30472,1.34891],"nice":false,"zero":false}},"y2":{"field":"h"}}},
{"data":{"name":"bars"},"mark":{"type":"bar","size":3,"stroke":"black","strokeWidth":1},
"encoding":{"x":{"field":"i","type":"quantitative","scale":{"domain":[-0.43,248.2],"nice":false,"zero":false}},"y":{"field":"o","type":"quantitative","scale":{"domain":[1.30472,1.34891],"nice":false,"zero":false}},"y2":{"field":"c"},"fill":{"condition":{"test":"datum.c>=datum.o","value":"white"},"value":"black"}}},
{"data":{"values":[{"i":72.3,"p":1.33216},{"i":158.6,"p":1.31526}]},"mark":{"type":"line","color":"#c02020","strokeWidth":1},
"encoding":{"x":{"field":"i","type":"quantitative","scale":{"domain":[-0.43,248.2],"nice":false,"zero":false}},"y":{"field":"p","type":"quantitative","scale":{"domain":[1.30472,1.34891],"nice":false,"zero":false}}}},
{"data":{"values":[{"i0":250.5,"i1":261.5,"p0":1.3317,"p1":1.32891}]},"mark":{"type":"rect","color":"black","clip":false},
"encoding":{"x":{"field":"i0","type":"quantitative","scale":{"domain":[-0.43,248.2],"nice":false,"zero":false}},"x2":{"field":"i1"},"y":{"field":"p0","type":"quantitative","scale":{"domain":[1.30472,1.34891],"nice":false,"zero":false}},"y2":{"field":"p1"}}},
{"data":{"values":[{"i":256,"p":1.3304,"t":"1.3304"}]},"mark":{"type":"text","color":"white","align":"center","baseline":"middle","fontSize":11,"clip":false},
"encoding":{"x":{"field":"i","type":"quantitative","scale":{"domain":[-0.43,248.2],"nice":false,"zero":false}},"y":{"field":"p","type":"quantitative","scale":{"domain":[1.30472,1.34891],"nice":false,"zero":false}},"text":{"field":"t"}}}
]},
{"width":862,"height":81,
"layer":[
{"data":{"name":"bars"},"mark":{"type":"rule","color":"#d02020","strokeWidth":1},
"encoding":{"x":{"field":"i","type":"quantitative","scale":{"domain":[-0.43,248.2],"nice":false,"zero":false},"axis":{"orient":"bottom","values":[21,51,81,111,141,171,213.4],"labels":false,"ticks":true,"tickSize":6,"tickDash":[3,3]}},"y":{"field":"hist","type":"quantitative","scale":{"domain":[-0.0047,0.00596],"nice":false,"zero":false},"axis":{"orient":"right","values":[0,0.005],"format":"+.3f","labelOffset":2}},"y2":{"datum":0}}},
{"data":{"name":"bars"},"mark":{"type":"line","color":"#000070","strokeWidth":1},
"encoding":{"x":{"field":"i","type":"quantitative","scale":{"domain":[-0.43,248.2],"nice":false,"zero":false}},"y":{"field":"macd","type":"quantitative","scale":{"domain":[-0.0047,0.00596],"nice":false,"zero":false}}}},
{"data":{"name":"bars"},"mark":{"type":"point","shape":"square","filled":true,"size":10,"color":"#e01020","opacity":1},
"encoding":{"x":{"field":"i","type":"quantitative","scale":{"domain":[-0.43,248.2],"nice":false,"zero":false}},"y":{"field":"sig","type":"quantitative","scale":{"domain":[-0.0047,0.00596],"nice":false,"zero":false}}}},
{"data":{"values":[{"i0":0,"i1":9.4,"p0":0.00555,"p1":0.00445}]},"mark":{"type":"rect","color":"white"},
"encoding":{"x":{"field":"i0","type":"quantitative","scale":{"domain":[-0.43,248.2],"nice":false,"zero":false}},"x2":{"field":"i1"},"y":{"field":"p0","type":"quantitative","scale":{"domain":[-0.0047,0.00596],"nice":false,"zero":false}},"y2":{"field":"p1"}}},
{"data":{"values":[{"i":-0.1,"p":0.005,"t":"MACD"}]},"mark":{"type":"text","color":"#000070","align":"left","baseline":"middle","fontSize":11},
"encoding":{"x":{"field":"i","type":"quantitative","scale":{"domain":[-0.43,248.2],"nice":false,"zero":false}},"y":{"field":"p","type":"quantitative","scale":{"domain":[-0.0047,0.00596],"nice":false,"zero":false}},"text":{"field":"t"}}}
]},
{"width":862,"height":62,
"layer":[
{"data":{"name":"bars"},"mark":{"type":"line","color":"#888888","strokeWidth":1},
"encoding":{"x":{"field":"i","type":"quantitative","scale":{"domain":[-0.43,248.2],"nice":false,"zero":false},"axis":{"orient":"bottom","values":[21,51,81,111,141,171,213.4],"tickSize":5,"tickDash":[3,3],"labelPadding":7,"labelExpr":"datum.value==21||datum.value==141?'4':datum.value==51||datum.value==171?'11':datum.value==111?'25':'18'"}},"y":{"field":"adx","type":"quantitative","scale":{"domain":[0,59.6],"nice":false,"zero":false},"axis":{"orient":"right","values":[50],"labelOffset":2}}}},
{"data":{"name":"bars"},"mark":{"type":"line","color":"#0000a0","strokeWidth":1},
"encoding":{"x":{"field":"i","type":"quantitative","scale":{"domain":[-0.43,248.2],"nice":false,"zero":false}},"y":{"field":"pdi","type":"quantitative","scale":{"domain":[0,59.6],"nice":false,"zero":false}}}},
{"data":{"name":"bars"},"mark":{"type":"line","color":"#c01020","strokeWidth":1},
"encoding":{"x":{"field":"i","type":"quantitative","scale":{"domain":[-0.43,248.2],"nice":false,"zero":false}},"y":{"field":"mdi","type":"quantitative","scale":{"domain":[0,59.6],"nice":false,"zero":false}}}},
{"data":{"values":[{"i0":0,"i1":6.4,"v0":54.5,"v1":45.5,"c":"white"},{"i0":-0.35,"i1":17.3,"v0":6.7,"v1":-8.7,"c":"black"},{"i0":138.7,"i1":156.9,"v0":6.7,"v1":-8.7,"c":"black"}]},"mark":{"type":"rect","clip":false},
"encoding":{"x":{"field":"i0","type":"quantitative","scale":{"domain":[-0.43,248.2],"nice":false,"zero":false}},"x2":{"field":"i1"},"y":{"field":"v0","type":"quantitative","scale":{"domain":[0,59.6],"nice":false,"zero":false}},"y2":{"field":"v1"},"fill":{"field":"c","type":"nominal","scale":null}}},
{"data":{"values":[{"i":138.7,"v0":6.7,"v1":-21.5}]},"mark":{"type":"rule","color":"black","strokeWidth":1,"clip":false},
"encoding":{"x":{"field":"i","type":"quantitative","scale":{"domain":[-0.43,248.2],"nice":false,"zero":false}},"y":{"field":"v0","type":"quantitative","scale":{"domain":[0,59.6],"nice":false,"zero":false}},"y2":{"field":"v1"}}},
{"data":{"values":[{"i":-0.1,"v":50,"t":"DMI"}]},"mark":{"type":"text","baseline":"middle","fontSize":11,"align":"left","color":"#888888"},
"encoding":{"x":{"field":"i","type":"quantitative","scale":{"domain":[-0.43,248.2],"nice":false,"zero":false}},"y":{"field":"v","type":"quantitative","scale":{"domain":[0,59.6],"nice":false,"zero":false}},"text":{"field":"t"}}},
{"data":{"values":[{"i":8.45,"v":-1,"t":"Фев 2019"},{"i":148,"v":-1,"t":"Мар 2019"}]},"mark":{"type":"text","baseline":"middle","fontSize":11,"clip":false,"align":"center","color":"white"},
"encoding":{"x":{"field":"i","type":"quantitative","scale":{"domain":[-0.43,248.2],"nice":false,"zero":false}},"y":{"field":"v","type":"quantitative","scale":{"domain":[0,59.6],"nice":false,"zero":false}},"text":{"field":"t"}}}
]}
]}
